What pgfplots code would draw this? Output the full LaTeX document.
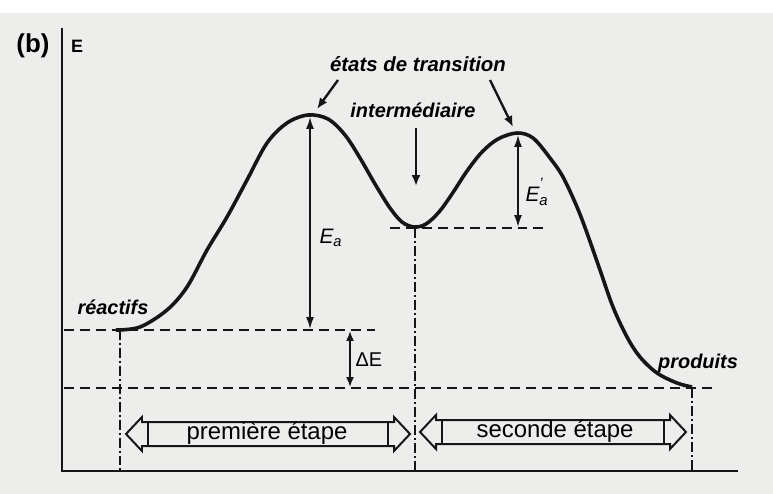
\documentclass[border=0pt]{standalone}
\usepackage{pgfplots}
\pgfplotsset{compat=1.18}
\usepackage{fontspec}
\setmainfont{Liberation Sans}
\usetikzlibrary{arrows.meta}
\definecolor{paper}{RGB}{237,237,235}
\definecolor{ink}{RGB}{22,22,22}

% energy profile of a two-step reaction (screen-like units, y downward)
\pgfplotstableread{
x y
116 330
140 327
167 310
187 287
207 250
227 217
247 180
267 143
287 123
308 115
328 119
345 135
360 158
375 184
390 208
402 222
414 227
426 224
439 212
452 194
467 171
482 152
498 139
517 133
533 138
550 158
563 177
577 207
587 233
600 270
613 307
627 337
640 357
657 373
677 383
692 387
}\profile

\begin{document}
\begin{tikzpicture}
\begin{axis}[
  scale only axis, width=773bp, height=494bp,
  xmin=0, xmax=773, ymin=0, ymax=494, y dir=reverse,
  hide axis, clip=false,
  every node/.style={text=ink},
]
% page
\addplot[fill=white, draw=none] coordinates {(0,0)(773,0)(773,494)(0,494)} -- cycle;
\addplot[fill=paper, draw=none] coordinates {(0,13)(773,13)(773,494)(0,494)} -- cycle;

% axes
\addplot[ink, line width=2.8pt] coordinates {(62,28)(62,471)(738,471)};

% energy levels
\addplot[ink, line width=2.4pt, dash pattern=on 10pt off 6pt] coordinates {(64,330)(375,330)};
\addplot[ink, line width=2.4pt, dash pattern=on 10pt off 6pt] coordinates {(64,388)(717,388)};
\addplot[ink, line width=2.4pt, dash pattern=on 10pt off 6pt] coordinates {(390,228)(547,228)};

% step boundaries
\addplot[ink, line width=2.2pt, dash pattern=on 10pt off 3pt on 2pt off 3pt] coordinates {(120,330)(120,471)};
\addplot[ink, line width=2.2pt, dash pattern=on 10pt off 3pt on 2pt off 3pt] coordinates {(415,228)(415,471)};
\addplot[ink, line width=2.2pt, dash pattern=on 10pt off 3pt on 2pt off 3pt] coordinates {(692,388)(692,471)};

% reaction profile
\addplot[ink, line width=3.6pt, smooth, tension=0.55] table[x=x, y=y] {\profile};

% activation energies and reaction energy
\addplot[ink, line width=1.7pt, {Latex[length=12pt,width=8pt]}-{Latex[length=12pt,width=8pt]}] coordinates {(310,117)(310,329)};
\addplot[ink, line width=1.7pt, {Latex[length=12pt,width=8pt]}-{Latex[length=12pt,width=8pt]}] coordinates {(518,135)(518,227)};
\addplot[ink, line width=1.7pt, {Latex[length=10pt,width=8pt]}-{Latex[length=10pt,width=8pt]}] coordinates {(350,331)(350,387)};

% pointers
\addplot[ink, line width=2.4pt, -{Latex[length=11pt,width=9pt]}] coordinates {(338,80)(317,109)};
\addplot[ink, line width=2.4pt, -{Latex[length=11pt,width=9pt]}] coordinates {(490,80)(513,127)};
\addplot[ink, line width=2.4pt, -{Latex[length=11pt,width=9pt]}] coordinates {(416,128)(416,186)};

% step arrows
\addplot[ink, line width=2pt, fill=paper] coordinates {
  (126,434)(142,417)(142,422)(394,422)(394,417)(410,434)(394,451)(394,446)(142,446)(142,451)} -- cycle;
\addplot[ink, line width=2pt] coordinates {(148,422)(148,446)};
\addplot[ink, line width=2pt] coordinates {(388,422)(388,446)};
\addplot[ink, line width=2pt, fill=paper] coordinates {
  (420,432)(436,415)(436,420)(670,420)(670,415)(686,432)(670,449)(670,444)(436,444)(436,449)} -- cycle;
\addplot[ink, line width=2pt] coordinates {(442,420)(442,444)};
\addplot[ink, line width=2pt] coordinates {(664,420)(664,444)};

% text
\node[font=\bfseries\fontsize{26}{28}\selectfont, anchor=center] at (axis cs:33,46) {(b)};
\node[font=\bfseries\fontsize{18}{20}\selectfont, anchor=center] at (axis cs:77,46) {E};
\node[font=\bfseries\itshape\fontsize{20.5}{22}\selectfont, anchor=center] at (axis cs:418,64) {états de transition};
\node[font=\bfseries\itshape\fontsize{20}{22}\selectfont, anchor=center] at (axis cs:413,110) {intermédiaire};
\node[font=\bfseries\itshape\fontsize{20}{22}\selectfont, anchor=center] at (axis cs:113,307) {réactifs};
\node[font=\bfseries\itshape\fontsize{20}{22}\selectfont, anchor=center] at (axis cs:698,363) {produits};
\node[font=\itshape\fontsize{21}{23}\selectfont, anchor=west] at (axis cs:316,238) {E\textsubscript{a}};
\node[font=\itshape\fontsize{21}{23}\selectfont, anchor=west] at (axis cs:522,192)
  {E\rlap{\raisebox{0.62em}{\fontsize{15}{15}\selectfont '}}\raisebox{-0.22em}{\fontsize{15}{15}\selectfont a}};
\node[font=\fontsize{20}{22}\selectfont, anchor=west] at (axis cs:352,360) {ΔE};
\node[font=\fontsize{24}{26}\selectfont, anchor=center] at (axis cs:267,433) {première étape};
\node[font=\fontsize{24}{26}\selectfont, anchor=center] at (axis cs:555,431) {seconde étape};
\end{axis}
\end{tikzpicture}
\end{document}
